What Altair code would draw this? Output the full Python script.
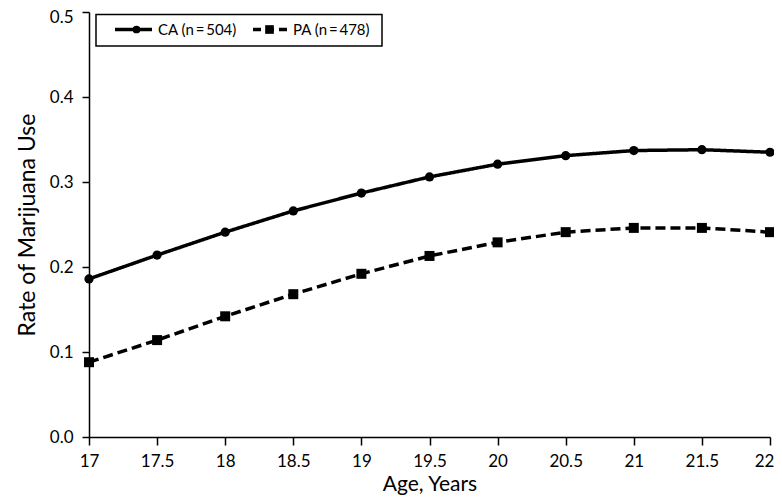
import altair as alt
import pandas as pd

ages = [17, 17.5, 18, 18.5, 19, 19.5, 20, 20.5, 21, 21.5, 22]
ca_rate = [0.186, 0.214, 0.241, 0.266, 0.287, 0.306, 0.321, 0.331, 0.337, 0.338, 0.335]
pa_rate = [0.088, 0.114, 0.142, 0.168, 0.192, 0.213, 0.229, 0.241, 0.246, 0.246, 0.241]
series_labels = ["CA (n\u2009=\u2009504)", "PA (n\u2009=\u2009478)"]
x_ticks = [17, 17.5, 18, 18.5, 19, 19.5, 20, 20.5, 21, 21.5, 22]
y_ticks = [0.0, 0.1, 0.2, 0.3, 0.4, 0.5]
x_title = "Age, Years"
y_title = "Rate of Marijuana Use"

FONT = "Lato"

df = pd.DataFrame({
    "age": ages + ages,
    "rate": ca_rate + pa_rate,
    "group": [series_labels[0]] * len(ages) + [series_labels[1]] * len(ages),
})

x_enc = alt.X("age:Q",
              scale=alt.Scale(domain=[17, 22], nice=False, zero=False),
              axis=alt.Axis(values=x_ticks, format="~g", title=x_title, labelFlush=False,
                            titlePadding=4, labelPadding=8, tickSize=8, titleFontSize=21,
                            labelOffset={"condition": {"test": "datum.value >= 22", "value": -6},
                                         "value": 0}))
y_enc = alt.Y("rate:Q",
              scale=alt.Scale(domain=[0, 0.5], nice=False),
              axis=alt.Axis(values=y_ticks, format=".1f", title=y_title, labelFlush=False,
                            titlePadding=10, labelPadding=9, tickSize=7,
                            labelOffset={"condition": {"test": "datum.value >= 0.5", "value": 5},
                                         "value": 0}))
dash = alt.StrokeDash("group:N",
                      scale=alt.Scale(domain=series_labels, range=[[1, 0], [10, 5]]),
                      legend=None)
shape = alt.Shape("group:N",
                  scale=alt.Scale(domain=series_labels, range=["circle", "square"]),
                  legend=None)
size = alt.Size("group:N",
                scale=alt.Scale(domain=series_labels, range=[85, 100]),
                legend=None)

base = alt.Chart(df).encode(x=x_enc, y=y_enc)
lines = base.mark_line(color="black", strokeWidth=3.5).encode(strokeDash=dash, detail="group:N")
points = base.mark_point(filled=True, color="black", opacity=1).encode(shape=shape, size=size)

# legend (drawn manually)
one = pd.DataFrame({"k": [0]})
box = alt.Chart(one).mark_rect(fill="white", stroke="black", strokeWidth=1.5).encode(
    x=alt.value(7), x2=alt.value(293), y=alt.value(2.5), y2=alt.value(34))
leg_ca_line = alt.Chart(one).mark_rule(color="black", strokeWidth=3.5).encode(
    x=alt.value(26), x2=alt.value(63), y=alt.value(17.5))
leg_ca_pt = alt.Chart(one).mark_point(filled=True, color="black", opacity=1, shape="circle", size=60).encode(
    x=alt.value(47.5), y=alt.value(17.5))
leg_ca_txt = alt.Chart(pd.DataFrame({"t": [series_labels[0]]})).mark_text(
    align="left", baseline="middle", font=FONT, fontSize=15, color="black").encode(
    x=alt.value(69), y=alt.value(18), text="t:N")
leg_pa_line = alt.Chart(one).mark_rule(color="black", strokeWidth=3.5, strokeDash=[8, 5]).encode(
    x=alt.value(164), x2=alt.value(198), y=alt.value(17.5))
leg_pa_pt = alt.Chart(one).mark_point(filled=True, color="black", opacity=1, shape="square", size=75).encode(
    x=alt.value(180.5), y=alt.value(17.5))
leg_pa_txt = alt.Chart(pd.DataFrame({"t": [series_labels[1]]})).mark_text(
    align="left", baseline="middle", font=FONT, fontSize=15, color="black").encode(
    x=alt.value(204), y=alt.value(18), text="t:N")

chart = alt.layer(lines, points, box, leg_ca_line, leg_ca_pt, leg_ca_txt,
                  leg_pa_line, leg_pa_pt, leg_pa_txt).properties(
    width=681, height=425,
    autosize=alt.AutoSizeParams(type="none"),
    padding={"left": 81, "top": 4, "right": 4, "bottom": 59},
    background="white",
).configure_view(stroke=None).configure_axis(
    grid=False, domainColor="black", domainWidth=1.5, tickColor="black", tickWidth=1.5,
    labelFont=FONT, labelFontSize=17, labelColor="black",
    titleFont=FONT, titleFontSize=23, titleFontWeight="normal", titleColor="black",
)

chart.save("out.html", embed_options={"renderer": "svg", "actions": False})
